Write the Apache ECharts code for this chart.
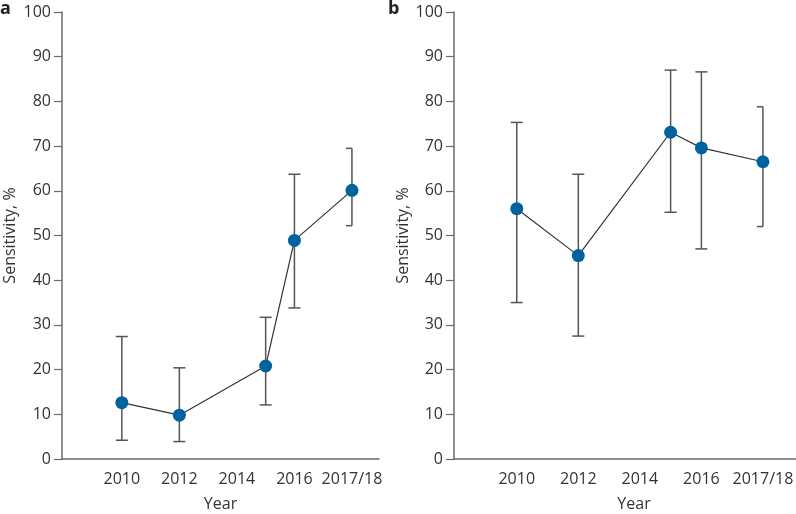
<!DOCTYPE html>
<html>
<head>
<meta charset="utf-8">
<script src="https://cdn.jsdelivr.net/npm/echarts@6/dist/echarts.min.js"></script>
<style>html,body{margin:0;padding:0;background:#fff}#c{width:796px;height:514px}</style>
</head>
<body>
<div id="c"></div>
<script>
const xLabels = ['2010', '2012', '2014', '2016', '2017/18'];
const tickPos = [0, 1, 2, 3, 4];
const xPos = [0, 1, 2.5, 3, 4];
const aMean = [12.6, 9.8, 20.8, 48.9, 60.1];
const aLow = [4.2, 3.9, 12.1, 33.8, 52.2];
const aHigh = [27.4, 20.4, 31.7, 63.7, 69.5];
const bMean = [56.0, 45.5, 73.1, 69.6, 66.5];
const bLow = [35.0, 27.5, 55.2, 47.0, 52.0];
const bHigh = [75.3, 63.7, 87.0, 86.6, 78.8];
const yTitle = 'Sensitivity, %';
const xTitle = 'Year';

const FONT = '"Open Sans"';
const FS = 16;
const TXT = '#333';
const AX = '#6b6b6b';

function pts(mean) { return xPos.map((x, i) => [x, mean[i]]); }
function errs(low, high) { return xPos.map((x, i) => [x, low[i], high[i]]); }

function errRender(params, api) {
  const x = api.value(0), lo = api.value(1), hi = api.value(2);
  const pLo = api.coord([x, lo]);
  const pHi = api.coord([x, hi]);
  const last = params.dataIndex === xPos.length - 1;
  const cl = 6, cr = last ? 0 : 6;
  const style = { stroke: '#555', lineWidth: 1.5, fill: null };
  return {
    type: 'group',
    children: [
      { type: 'line', shape: { x1: pLo[0], y1: pLo[1], x2: pHi[0], y2: pHi[1] }, style },
      { type: 'line', shape: { x1: pHi[0] - cl, y1: pHi[1], x2: pHi[0] + cr, y2: pHi[1] }, style },
      { type: 'line', shape: { x1: pLo[0] - cl, y1: pLo[1], x2: pLo[0] + cr, y2: pLo[1] }, style }
    ]
  };
}

function xAxis(gi, min, max) {
  return {
    type: 'value', gridIndex: gi, min, max,
    splitLine: { show: false },
    axisLine: { onZero: false, lineStyle: { color: AX, width: 1.5 } },
    axisTick: { show: false },
    axisLabel: {
      customValues: tickPos, margin: 12, color: TXT, fontSize: FS, fontFamily: FONT,
      formatter: v => xLabels[Math.round(v)]
    },
    name: xTitle, nameLocation: 'middle', nameGap: 37,
    nameTextStyle: { color: TXT, fontSize: FS, fontFamily: FONT }
  };
}
function yAxis(gi, gap) {
  return {
    type: 'value', gridIndex: gi, min: 0, max: 100, interval: 10,
    splitLine: { show: false },
    axisLine: { show: true, onZero: false, lineStyle: { color: AX, width: 1.5 } },
    axisTick: { show: true, length: 8, lineStyle: { color: AX, width: 1.2 } },
    axisLabel: { margin: 11, color: TXT, fontSize: FS, fontFamily: FONT },
    name: yTitle, nameLocation: 'middle', nameGap: gap,
    nameTextStyle: { color: TXT, fontSize: FS, fontFamily: FONT }
  };
}
function lineSeries(i, mean) {
  return {
    type: 'line', xAxisIndex: i, yAxisIndex: i, data: pts(mean),
    symbol: 'circle', symbolSize: 13, z: 5,
    lineStyle: { color: '#333', width: 1.2 },
    itemStyle: { color: '#0063a0' },
    emphasis: { disabled: true }
  };
}
function errSeries(i, low, high) {
  return {
    type: 'custom', xAxisIndex: i, yAxisIndex: i, data: errs(low, high),
    renderItem: errRender, z: 3, encode: { x: 0, y: [1, 2] }
  };
}

const chart = echarts.init(document.getElementById('c'), null, { renderer: 'canvas' });
chart.setOption({
  animation: false,
  grid: [
    { left: 62, top: 12, width: 317, height: 447, outerBoundsMode: 'none', containLabel: false },
    { left: 454, top: 12, width: 360, height: 447, outerBoundsMode: 'none', containLabel: false }
  ],
  xAxis: [xAxis(0, -1.04, 4.47), xAxis(1, -1.02, 4.83)],
  yAxis: [yAxis(0, 44), yAxis(1, 42)],
  graphic: [
    { type: 'text', left: 0, top: 0, style: { text: 'a', font: 'bold 18px ' + FONT, fill: '#222' } },
    { type: 'text', left: 388, top: 0, style: { text: 'b', font: 'bold 18px ' + FONT, fill: '#222' } }
  ],
  series: [
    errSeries(0, aLow, aHigh), lineSeries(0, aMean),
    errSeries(1, bLow, bHigh), lineSeries(1, bMean)
  ]
});
</script>
</body>
</html>
